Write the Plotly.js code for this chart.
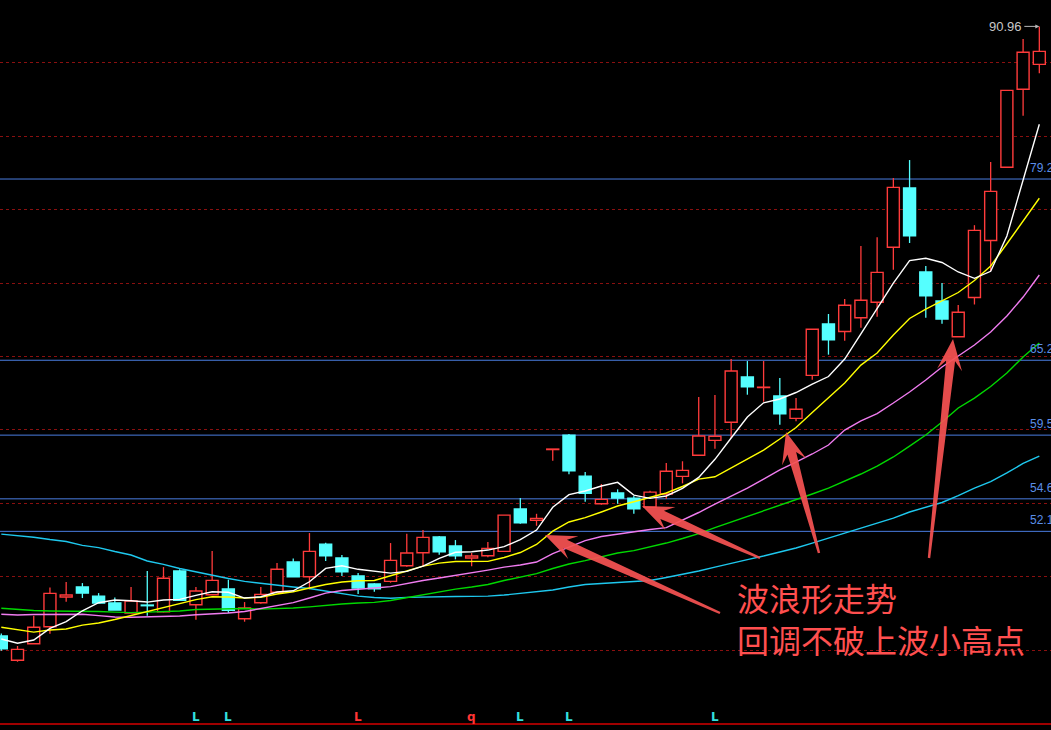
<!DOCTYPE html>
<html><head><meta charset="utf-8">
<script src="https://cdn.plot.ly/plotly-3.0.1.min.js"></script>
<style>html,body{margin:0;padding:0;background:#000;overflow:hidden}#chart{width:1051px;height:730px}</style>
</head><body><div id="chart"></div>
<script>
// ---- data ----
const days = Array.from({length: 65}, (_, i) => i);
const open  = [44.07,42.20,43.47,44.78,47.07,47.84,47.14,46.61,45.84,46.45,45.94,49.07,46.47,47.24,47.68,45.40,46.63,47.43,49.76,48.63,51.14,50.07,48.68,48.07,48.27,49.47,50.47,51.68,50.99,50.07,50.24,50.58,53.84,52.97,58.41,59.51,56.37,54.24,55.07,54.66,53.97,54.99,56.35,57.97,59.12,60.51,63.99,63.18,62.53,60.81,64.12,68.07,67.49,68.55,69.74,73.97,78.53,72.07,69.84,67.09,70.11,74.49,80.12,86.12,88.04];
const close = [43.09,43.04,44.74,47.35,47.22,47.37,46.61,46.07,46.76,46.40,48.51,46.81,47.53,48.35,46.04,46.22,47.27,49.20,48.63,50.58,50.24,49.01,47.76,47.71,49.89,50.45,51.66,50.55,50.24,50.22,50.81,53.37,52.78,53.12,58.45,56.78,55.04,54.58,54.68,53.86,55.14,56.74,56.81,59.45,59.43,64.45,63.24,63.21,61.17,61.51,67.66,66.86,69.51,69.89,72.04,78.58,74.86,70.24,68.45,68.97,75.27,78.27,86.04,88.97,89.04];
const high  = [44.27,43.30,45.63,47.81,48.22,48.14,47.37,47.04,47.84,49.07,49.37,49.20,47.84,50.61,48.40,46.68,47.84,49.68,50.04,51.99,51.24,50.30,48.91,48.12,51.22,51.94,52.22,51.76,51.45,50.45,51.30,53.37,54.68,53.47,58.45,59.61,56.68,55.76,55.35,54.84,55.24,57.37,57.51,62.45,62.61,65.37,65.22,65.22,63.91,62.37,67.66,68.84,69.99,74.07,74.74,79.30,80.68,72.53,71.22,69.53,75.67,80.53,86.04,89.99,90.96];
const low   = [42.94,42.09,43.47,44.24,46.71,46.99,46.61,46.07,45.84,45.63,45.89,46.81,45.32,47.24,45.84,45.17,46.55,47.43,48.63,47.66,49.84,48.68,47.30,47.47,48.17,49.40,49.45,50.32,49.97,49.43,50.12,50.58,52.71,52.55,57.55,56.51,54.40,54.17,54.24,53.47,53.91,54.61,55.81,57.97,58.47,59.30,62.63,62.09,60.32,60.58,63.78,65.71,66.78,67.78,68.63,72.24,74.30,68.55,68.09,67.09,69.57,72.14,80.12,84.09,87.35];

const ma5  = [43.84,43.51,43.76,44.66,45.17,46.01,46.63,46.84,46.78,46.68,46.84,46.89,47.20,47.47,47.43,46.99,47.09,47.45,47.55,48.24,49.27,49.47,49.20,49.07,48.91,49.04,49.45,50.04,50.51,50.55,50.68,50.94,51.49,52.22,53.97,54.94,55.22,55.61,55.89,54.91,54.66,54.84,55.43,56.27,57.66,59.30,60.91,62.01,62.30,62.80,63.45,64.03,65.37,67.30,69.30,71.22,72.95,73.12,72.80,72.07,71.58,72.12,74.84,79.14,83.43];
const ma10 = [44.74,44.53,44.37,44.53,44.61,44.91,45.07,45.34,45.64,45.95,46.22,46.57,46.87,47.09,47.07,46.99,47.04,47.30,47.47,47.76,48.03,48.22,48.32,48.34,48.68,49.07,49.45,49.68,49.80,49.81,49.81,50.11,50.49,51.11,52.14,52.84,53.18,53.61,54.07,54.40,54.72,55.07,55.57,56.14,56.32,56.99,57.72,58.37,59.22,60.11,61.26,62.41,63.53,64.91,65.84,67.22,68.49,69.22,69.87,70.49,71.41,72.53,74.24,75.99,77.74];
const ma20 = [45.74,45.68,45.72,45.74,45.74,45.74,45.64,45.53,45.51,45.53,45.55,45.61,45.71,45.76,45.84,45.95,46.18,46.37,46.64,46.99,47.37,47.57,47.64,47.76,47.87,48.11,48.34,48.53,48.72,48.95,49.14,49.37,49.53,49.76,50.41,50.91,51.41,51.72,51.91,52.07,52.26,52.41,52.99,53.57,54.22,54.84,55.45,56.14,56.84,57.45,58.07,58.76,59.91,60.61,61.18,61.99,62.84,63.76,64.76,65.61,66.45,67.45,68.68,70.14,71.84];
const ma30 = [46.20,46.11,46.03,45.99,45.99,45.95,45.95,45.91,45.87,45.91,45.95,45.99,46.11,46.14,46.17,46.18,46.14,46.17,46.22,46.31,46.43,46.53,46.61,46.66,46.80,47.03,47.26,47.49,47.68,47.84,48.03,48.34,48.61,48.87,49.26,49.61,49.87,50.14,50.45,50.64,50.91,51.22,51.57,51.95,52.41,52.84,53.22,53.68,54.14,54.53,54.99,55.45,55.99,56.53,57.14,57.84,58.68,59.53,60.53,61.61,62.37,63.26,64.30,65.53,66.61];
const ma60 = [51.91,51.80,51.67,51.49,51.34,51.04,50.87,50.57,50.30,49.84,49.58,49.26,48.99,48.72,48.49,48.27,48.11,47.95,47.84,47.72,47.53,47.30,47.14,47.03,46.97,47.04,47.08,47.09,47.11,47.12,47.14,47.22,47.34,47.45,47.61,47.84,48.03,48.11,48.20,48.24,48.34,48.57,48.80,49.07,49.37,49.68,49.95,50.22,50.53,50.84,51.22,51.61,51.99,52.37,52.76,53.14,53.61,53.99,54.34,54.87,55.45,55.95,56.61,57.34,57.91];

const levels = [79.22, 65.28, 59.52, 54.62, 52.12];
const highLabel = '90.96';
const markIdx  = [12, 14, 22, 29, 32, 35, 44];
const markText = ['L', 'L', 'L', 'q', 'L', 'L', 'L'];
const markSide = ['b', 'b', 's', 's', 'b', 'b', 'b'];
const note1 = '波浪形走势';
const note2 = '回调不破上波小高点';

// ---- styles ----
const RED = '#ff3b3b', CYAN = '#55ffff';
const W = 1051, H = 730;

// candles
const upBase = [], upH = [], dnBase = [], dnH = [];
const upWx = [], upWy = [], dnWx = [], dnWy = [];
days.forEach((d, i) => {
  const o = open[i], c = close[i];
  const top = Math.max(o, c), bot = Math.min(o, c);
  const isUp = c >= o;
  (isUp ? upBase : dnBase).push(bot);
  (isUp ? upH : dnH).push(top - bot);
  (isUp ? dnBase : upBase).push(null);
  (isUp ? dnH : upH).push(null);
  const wx = isUp ? upWx : dnWx, wy = isUp ? upWy : dnWy;
  if (high[i] > top) { wx.push(d, d, null); wy.push(high[i], top, null); }
  if (low[i] < bot) { wx.push(d, d, null); wy.push(bot, low[i], null); }
});

const traces = [
  {type: 'bar', x: days, base: upBase, y: upH, width: 0.74,
   marker: {color: '#000', line: {color: RED, width: 1.4}}, hoverinfo: 'skip'},
  {type: 'bar', x: days, base: dnBase, y: dnH, width: 0.74,
   marker: {color: CYAN, line: {color: CYAN, width: 1.4}}, hoverinfo: 'skip'},
  {type: 'scatter', mode: 'lines', x: upWx, y: upWy, line: {color: RED, width: 1.3}, hoverinfo: 'skip'},
  {type: 'scatter', mode: 'lines', x: dnWx, y: dnWy, line: {color: CYAN, width: 1.3}, hoverinfo: 'skip'},
  {type: 'scatter', mode: 'lines', x: days, y: ma60, line: {color: '#1ec8ee', width: 1.4}},
  {type: 'scatter', mode: 'lines', x: days, y: ma30, line: {color: '#00d800', width: 1.4}},
  {type: 'scatter', mode: 'lines', x: days, y: ma20, line: {color: '#f07cf0', width: 1.4}},
  {type: 'scatter', mode: 'lines', x: days, y: ma10, line: {color: '#ffff00', width: 1.4}},
  {type: 'scatter', mode: 'lines', x: days, y: ma5,  line: {color: '#ffffff', width: 1.4}}
];

// arrows (pixel geometry of the annotation arrows)
const arrowDefs = [[720, 613, 545, 535], [760, 558, 642, 506], [819, 553, 786, 432], [929, 558, 953, 339]];
function P(x, y) { return (x / W).toFixed(5) + ',' + (1 - y / H).toFixed(5); }
function arrowPath(tx, ty, px, py) {
  const dx = px - tx, dy = py - ty, L = Math.hypot(dx, dy);
  const ux = dx / L, uy = dy / L, nx = -uy, ny = ux;
  const pt = (a, b) => P(tx + ux * a + nx * b, ty + uy * a + ny * b);
  const pts = [pt(0, 1.2), pt(L - 22, 4.5), pt(L - 31, 12.5), pt(L, 0), pt(L - 31, -12.5), pt(L - 22, -4.5), pt(0, -1.2)];
  return 'M' + pts.join('L') + 'Z';
}

const shapes = [];
levels.forEach(v => shapes.push({type: 'line', xref: 'paper', x0: 0, x1: 1, yref: 'y', y0: v, y1: v,
  line: {color: '#4a7de0', width: 1}, layer: 'below'}));
shapes.push({type: 'line', xref: 'paper', x0: 0, x1: 1, yref: 'paper', y0: 1 - 724 / H, y1: 1 - 724 / H,
  line: {color: '#a00000', width: 2}});
arrowDefs.forEach(a => shapes.push({type: 'path', xref: 'paper', yref: 'paper', path: arrowPath(...a),
  fillcolor: 'rgba(245,82,82,0.93)', line: {width: 0}, layer: 'above'}));

const annotations = [];
levels.forEach(v => annotations.push({xref: 'paper', x: 1028 / W, xanchor: 'left', yref: 'y', y: v,
  yanchor: 'bottom', yshift: 2, text: v.toFixed(2), showarrow: false,
  font: {family: 'Liberation Sans, Arial', size: 12, color: '#5a8ee8'}}));
annotations.push({x: days[days.length - 1], y: high[high.length - 1], xref: 'x', yref: 'y',
  text: highLabel, showarrow: true, ax: -15, ay: 0, axref: 'pixel', ayref: 'pixel', xanchor: 'right',
  arrowhead: 2, arrowsize: 0.8, arrowwidth: 1, arrowcolor: '#b8b8b8', standoff: 0,
  font: {family: 'Liberation Sans, Arial', size: 13, color: '#c8c8c8'}});
markIdx.forEach((d, k) => annotations.push({x: d, xref: 'x', yref: 'paper', y: 1 - 717 / H, yanchor: 'middle',
  text: markText[k], showarrow: false,
  font: {family: 'DejaVu Sans, Arial', size: 12, color: markSide[k] === 'b' ? '#33dede' : '#ff3535', weight: 'bold'}}));
annotations.push({xref: 'paper', yref: 'paper', x: 735 / W, y: 1 - 618 / H, xanchor: 'left', yanchor: 'middle',
  align: 'left', text: note1 + '<br>' + note2, showarrow: false,
  font: {family: 'Noto Sans CJK SC', size: 32, color: '#ff4f4f'}});

const layout = {
  width: W, height: H, margin: {l: 0, r: 0, t: 0, b: 0, pad: 0},
  paper_bgcolor: '#000', plot_bgcolor: '#000', showlegend: false,
  barmode: 'overlay', hovermode: false,
  xaxis: {range: [-0.08, 64.72], showgrid: false, zeroline: false, showticklabels: false, ticks: '', fixedrange: true},
  yaxis: {range: [36.84, 92.99], showgrid: true, gridcolor: '#8a1010', griddash: 'dot', gridwidth: 1,
    tickmode: 'linear', tick0: 42.99, dtick: 5.646, zeroline: false, showticklabels: false, ticks: '', fixedrange: true},
  shapes: shapes, annotations: annotations
};
Plotly.newPlot('chart', traces, layout, {displayModeBar: false, staticPlot: true});
</script>
</body></html>
